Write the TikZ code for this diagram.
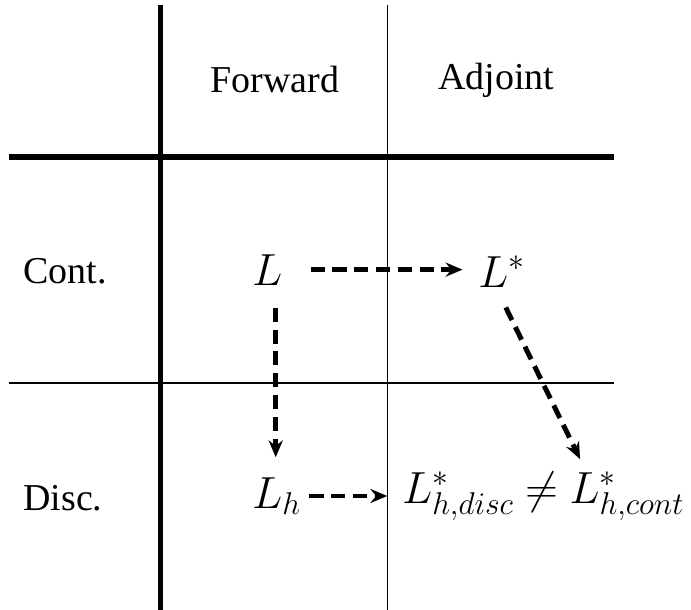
\RequirePackage{fix-cm}
\documentclass[tikz,border=0pt]{standalone}
\usepackage{fontspec}
\setmainfont{Liberation Serif}
\usetikzlibrary{arrows.meta}

\begin{document}
\begin{tikzpicture}[x=0.025cm,y=-0.025cm,>={Stealth[length=12pt,width=10pt,inset=4pt]},font=\fontsize{27}{32}\selectfont,
  grid thick/.style={line width=3.9pt},
  grid thin/.style={line width=1.4pt},
  head/.style={anchor=base,inner sep=0pt},
  side/.style={anchor=base west,inner sep=0pt},
  term/.style={anchor=base west,inner sep=0pt,font=\fontsize{32}{38}\selectfont},
  flow/.style={->,line width=3.5pt,dash pattern=on 10pt off 5.5pt}]
\useasboundingbox (0,0) rectangle (691,610);
\draw[grid thick] (160.5,5) -- (160.5,610);
\draw[grid thin] (387.5,5) -- (387.5,610);
\draw[grid thick] (9,157) -- (614,157);
\draw[grid thin] (9,383) -- (614,383);
\node[head] (fwd) at (275,93) {Forward};
\node[head] (adj) at (496.5,90) {Adjoint};
\node[side] (cont) at (23,283) {Cont.};
\node[side] (disc) at (23,510) {Disc.};
\node[term] (L) at (252,285) {$L$};
\node[term] (Lstar) at (478,287) {$L^*$};
\node[term] (Lh) at (252,508) {$L_h$};
\node[term] (Ldisc) at (402,503) {$L^*_{h,disc}$};
\node[term,inner xsep=8pt] (neq) at (Ldisc.base east) {$\neq$};
\node[term] (Lcont) at (neq.base east) {$L^*_{h,cont}$};
\draw[flow,shorten <=20pt,shorten >=11pt] (L.east) -- (L.east -| Lstar.west);
\draw[flow,shorten <=16pt,shorten >=14pt] ([xshift=6]L.south) -- ([xshift=6]L.south |- Lh.north);
\draw[flow,shorten <=16pt,shorten >=10pt] ([xshift=-4]Lstar.south) -- ([xshift=12]Lcont.north west);
\draw[flow,shorten <=6pt,shorten >=10.5pt] (Lh.east) -- (Lh.east -| Ldisc.west);
\end{tikzpicture}
\end{document}
